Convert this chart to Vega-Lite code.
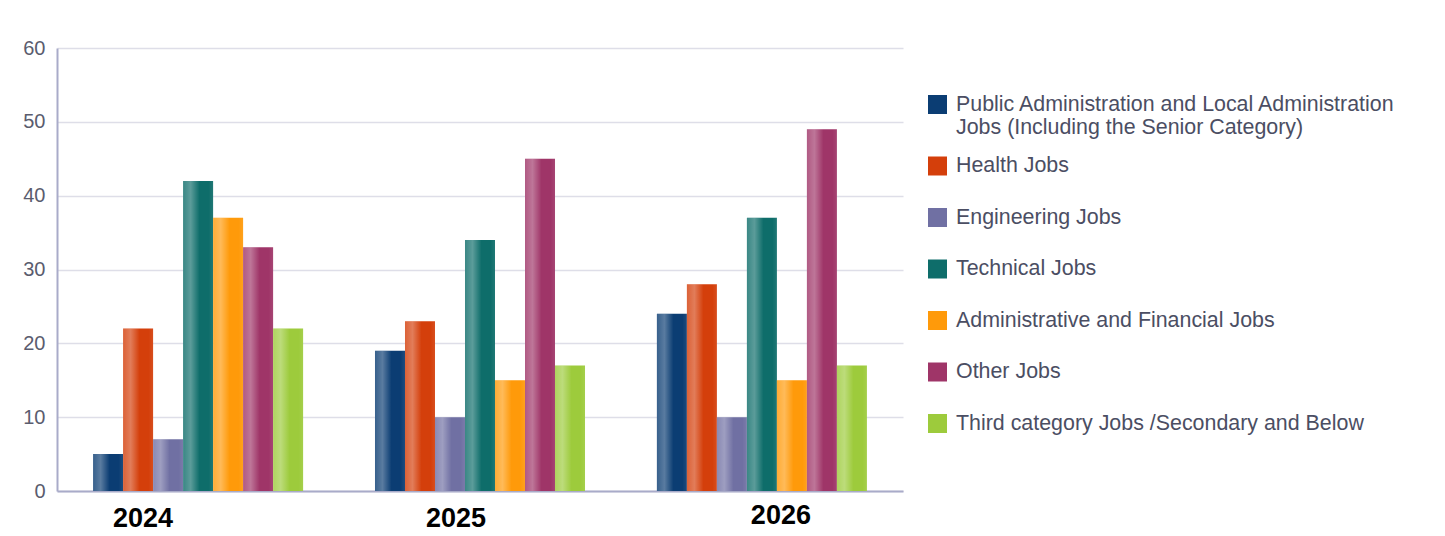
{
  "$schema": "https://vega.github.io/schema/vega-lite/v6.json",
  "width": 846,
  "height": 443,
  "autosize": {"type": "none"},
  "padding": {"left": 57, "top": 48, "right": 542, "bottom": 45},
  "background": "white",
  "config": {"view": {"stroke": null}, "font": "Liberation Sans"},
  "data": {
    "values": [
      {"year": "2024", "category": "Public Administration and Local Administration Jobs (Including the Senior Category)", "value": 5},
      {"year": "2024", "category": "Health Jobs", "value": 22},
      {"year": "2024", "category": "Engineering Jobs", "value": 7},
      {"year": "2024", "category": "Technical Jobs", "value": 42},
      {"year": "2024", "category": "Administrative and Financial Jobs", "value": 37},
      {"year": "2024", "category": "Other Jobs", "value": 33},
      {"year": "2024", "category": "Third category Jobs /Secondary and Below", "value": 22},
      {"year": "2025", "category": "Public Administration and Local Administration Jobs (Including the Senior Category)", "value": 19},
      {"year": "2025", "category": "Health Jobs", "value": 23},
      {"year": "2025", "category": "Engineering Jobs", "value": 10},
      {"year": "2025", "category": "Technical Jobs", "value": 34},
      {"year": "2025", "category": "Administrative and Financial Jobs", "value": 15},
      {"year": "2025", "category": "Other Jobs", "value": 45},
      {"year": "2025", "category": "Third category Jobs /Secondary and Below", "value": 17},
      {"year": "2026", "category": "Public Administration and Local Administration Jobs (Including the Senior Category)", "value": 24},
      {"year": "2026", "category": "Health Jobs", "value": 28},
      {"year": "2026", "category": "Engineering Jobs", "value": 10},
      {"year": "2026", "category": "Technical Jobs", "value": 37},
      {"year": "2026", "category": "Administrative and Financial Jobs", "value": 15},
      {"year": "2026", "category": "Other Jobs", "value": 49},
      {"year": "2026", "category": "Third category Jobs /Secondary and Below", "value": 17}
    ]
  },
  "encoding": {
    "x": {
      "field": "year",
      "type": "nominal",
      "sort": null,
      "scale": {"paddingInner": 0.255, "paddingOuter": 0.128},
      "axis": {
        "title": null,
        "labelAngle": 0,
        "ticks": false,
        "domainColor": "#a9abc9",
        "domainWidth": 2,
        "labelFont": "Liberation Sans",
        "labelFontWeight": "bold",
        "labelFontSize": 27,
        "labelColor": "#000000",
        "labelBaseline": "top",
        "labelPadding": {"condition": {"test": "datum.value === '2026'", "value": 11}, "value": 14},
        "labelOffset": {"condition": [{"test": "datum.value === '2024'", "value": -55}, {"test": "datum.value === '2025'", "value": -24}], "value": 19}
      }
    },
    "xOffset": {
      "field": "category",
      "type": "nominal",
      "sort": ["Public Administration and Local Administration Jobs (Including the Senior Category)", "Health Jobs", "Engineering Jobs", "Technical Jobs", "Administrative and Financial Jobs", "Other Jobs", "Third category Jobs /Secondary and Below"],
      "scale": {"paddingInner": 0, "paddingOuter": 0}
    },
    "y": {
      "field": "value",
      "type": "quantitative",
      "scale": {"domain": [0, 60], "nice": false},
      "axis": {
        "title": null,
        "values": [0, 10, 20, 30, 40, 50, 60],
        "ticks": false,
        "labelFontSize": 20,
        "labelColor": "#5a5c6e",
        "labelPadding": 12,
        "domainColor": "#a9abc9",
        "domainWidth": 2,
        "gridColor": "#dedee8",
        "gridWidth": 1.5
      }
    }
  },
  "layer": [
    {
      "mark": {"type": "bar"},
      "encoding": {
        "color": {
          "field": "category",
          "type": "nominal",
          "scale": {
            "domain": ["Public Administration and Local Administration Jobs (Including the Senior Category)", "Health Jobs", "Engineering Jobs", "Technical Jobs", "Administrative and Financial Jobs", "Other Jobs", "Third category Jobs /Secondary and Below"],
            "range": ["#0b3d73", "#d43f0b", "#7070a3", "#0e6d6a", "#ff9a0a", "#9f3568", "#9dcb3c"]
          },
          "legend": {
            "title": null,
            "orient": "none",
            "legendX": 867,
            "legendY": 43,
            "padding": 0,
            "symbolType": "square",
            "symbolSize": 361,
            "symbolStrokeWidth": 7.2,
            "symbolStrokeColor": "transparent",
            "symbolOpacity": 1,
            "labelFontSize": 21.4,
            "labelColor": "#4b4e63",
            "labelOffset": 5,
            "labelLimit": 700,
            "rowPadding": 2.5,
            "labelExpr": "datum.label == 'Public Administration and Local Administration Jobs (Including the Senior Category)' ? ['Public Administration and Local Administration', 'Jobs (Including the Senior Category)'] : datum.label"
          }
        }
      }
    },
    {
      "mark": {
        "type": "bar",
        "color": {
          "gradient": "linear",
          "x1": 0, "x2": 1, "y1": 0, "y2": 0,
          "stops": [
            {"offset": 0, "color": "rgba(255,255,255,0.18)"},
            {"offset": 0.25, "color": "rgba(255,255,255,0.32)"},
            {"offset": 0.55, "color": "rgba(255,255,255,0)"},
            {"offset": 0.85, "color": "rgba(255,255,255,0)"},
            {"offset": 1, "color": "rgba(255,255,255,0.08)"}
          ]
        }
      }
    }
  ]
}
